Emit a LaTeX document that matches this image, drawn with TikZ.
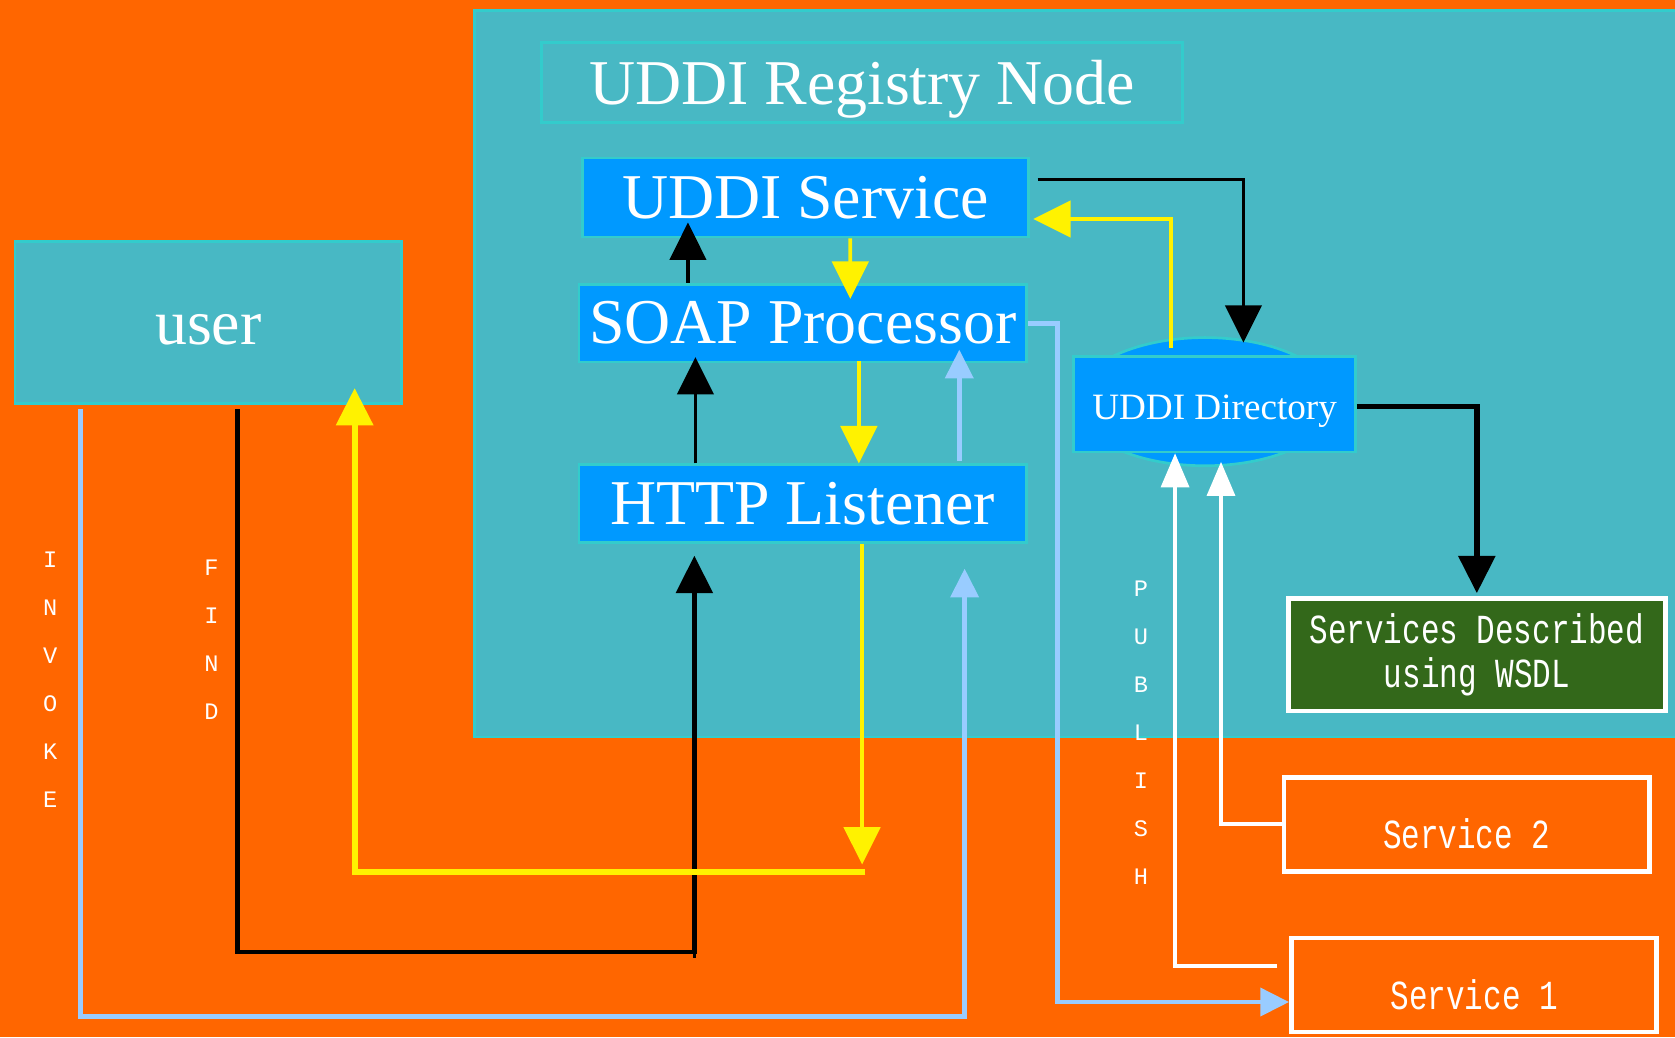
\documentclass[tikz,border=0pt]{standalone}
\usepackage{fontspec}
\setmainfont{Liberation Serif}
\newfontfamily\narrowmono[FakeStretch=0.75]{Liberation Mono}
\newfontfamily\plainmono{Liberation Mono}
\usetikzlibrary{arrows.meta,calc,shapes.geometric}

\definecolor{bgorange}{RGB}{255,102,0}
\definecolor{regteal}{RGB}{72,184,196}
\definecolor{edgecyan}{RGB}{51,204,204}
\definecolor{boxblue}{RGB}{0,153,255}
\definecolor{wsdlgreen}{RGB}{51,104,26}
\definecolor{linkblue}{RGB}{153,204,255}

\begin{document}
\begin{tikzpicture}[x=0.1mm,y=-0.1mm,
    bigtext/.style ={font=\fontsize{17}{20}\selectfont},
    panel/.style ={rectangle, draw=edgecyan, line width=0.25mm, fill=boxblue,
                   text=white, inner sep=0pt, bigtext},
    outline/.style ={rectangle, draw=white, line width=0.45mm, text=white,
                     inner sep=0pt, align=center,
                     font=\narrowmono\fontsize{11}{11.6}\selectfont},
    vlabel/.style ={text=white, align=center, inner sep=0pt,
                    font=\plainmono\fontsize{6.3}{12.8}\selectfont},
    blkline/.style ={draw=black, line width=0.3mm,
                     -{Triangle[length=3.5mm,width=3.4mm]}},
    yelline/.style ={draw=yellow, line width=0.35mm,
                     -{Triangle[length=3.5mm,width=3.4mm]}},
    blueline/.style ={draw=linkblue, line width=0.45mm,
                      -{Triangle[length=2.7mm,width=2.6mm]}},
    whtline/.style ={draw=white, line width=0.4mm,
                     -{Triangle[length=3.2mm,width=2.6mm]}}]
   \useasboundingbox (0,0) rectangle (1568,971);
   \fill[bgorange] (0,0) rectangle (1568,971);
   % registry area
   \node[rectangle, draw=edgecyan, line width=0.25mm, fill=regteal, inner sep=0pt,
         minimum width=113.4mm, minimum height=68mm] (registry) at (1011,350) {};
   \node[rectangle, draw=edgecyan, line width=0.3mm, text=white, inner sep=0pt,
         minimum width=60mm, minimum height=7.5mm, text height=5.3mm, text depth=1.3mm,
         bigtext] (title) at (807,77.5) {UDDI Registry Node};
   \node[panel, minimum width=41.8mm, minimum height=7.4mm] (uddisvc) at (754,185) {UDDI Service};
   \node[panel, minimum width=41.9mm, minimum height=7.3mm] (soap) at (751.5,302.5) {SOAP Processor};
   \node[panel, minimum width=41.9mm, minimum height=7.3mm] (http) at (751.5,471.5) {HTTP Listener};
   \node[panel, fill=regteal, minimum width=36.2mm, minimum height=15.2mm,
         text height=4.2mm] (user) at (195,302) {user};
   \node[ellipse, draw=edgecyan, line width=0.25mm, fill=boxblue, inner sep=0pt,
         minimum width=24.4mm, minimum height=12mm] (dirshape) at (1128,376) {};
   \node[panel, minimum width=26.4mm, minimum height=8.9mm, text height=3.6mm, text depth=0.8mm,
         font=\fontsize{9.9}{12}\selectfont] (dir) at (1137,378.5) {UDDI Directory};
   \node[outline, fill=wsdlgreen, minimum width=35.3mm, minimum height=10.5mm] (wsdl) at (1382.5,613) {Services Described\\using WSDL};
   \node[outline, minimum width=34.2mm, minimum height=8.8mm,
         text height=4.9mm, text depth=0.3mm] (svc2) at (1373,771.5) {Service 2};
   \node[outline, minimum width=34.2mm, minimum height=8.8mm,
         text height=4.9mm, text depth=0.3mm] (svc1) at (1380,922) {Service 1};
   \node[vlabel] (invoke) at (47,636) {I\\N\\V\\O\\K\\E};
   \node[vlabel] (find) at (198,598.5) {F\\I\\N\\D};
   \node[vlabel] (publish) at (1068,686) {P\\U\\B\\L\\I\\S\\H};
   % black
   \draw[blkline] ($(uddisvc.east)+(7,-17)$) -| ($(dir.north)+(27,-12)$);
   \draw[blkline] ($(soap.north)+(-107.5,0)$) -- ($(uddisvc.south)+(-110,-15)$);
   \draw[blkline] ($(http.north)+(-100.5,0)$) -- ($(soap.south)+(-100.5,-6)$);
   \draw[blkline, line width=0.45mm] ($(user.south)+(27,4)$) -- ++(0,508) -| ($(http.south)+(-101.5,11)$);
   \draw[draw=black, line width=0.3mm] ($(http.south)+(-101.5,380)$) -- ++(0,8);
   \draw[blkline, line width=0.5mm] ($(dir.east)+(0,2)$) -| ($(wsdl.north)+(0,-3)$);
   % yellow
   \draw[yelline] ($(dir.north)+(-41,-7)$) |- ($(uddisvc.east)+(3,20)$);
   \draw[yelline] ($(uddisvc.south)+(42,0)$) -- ($(soap.north)+(44.5,15)$);
   \draw[yelline] ($(soap.south)+(52.5,-2)$) -- ($(http.north)+(52.5,0)$);
   \coordinate (findback) at (810,816);
   \draw[yelline] ($(http.south)+(55.5,0)$) -- ($(http.south)+(55.5,300)$);
   \draw[yelline, line width=0.55mm] (findback) -| ($(user.south)+(137,-16)$);
   % light blue
   \draw[blueline] ($(http.north)+(146.5,-2)$) -- ($(soap.south)+(146.5,-13)$);
   \draw[blueline] (soap.east) -- ++(28,0) |- ($(svc1.west)+(0,16)$);
   \draw[blueline] ($(user.south)+(-120,4)$) -- ++(0,568) -| ($(http.south)+(151.5,23)$);
   % white
   \draw[whtline] ($(svc1.west)+(-11,-18)$) -| ($(dir.south)+(-37,0)$);
   \draw[whtline] (svc2.west) -| ($(dir.south)+(6,8)$);
 \end{tikzpicture}
\end{document}
